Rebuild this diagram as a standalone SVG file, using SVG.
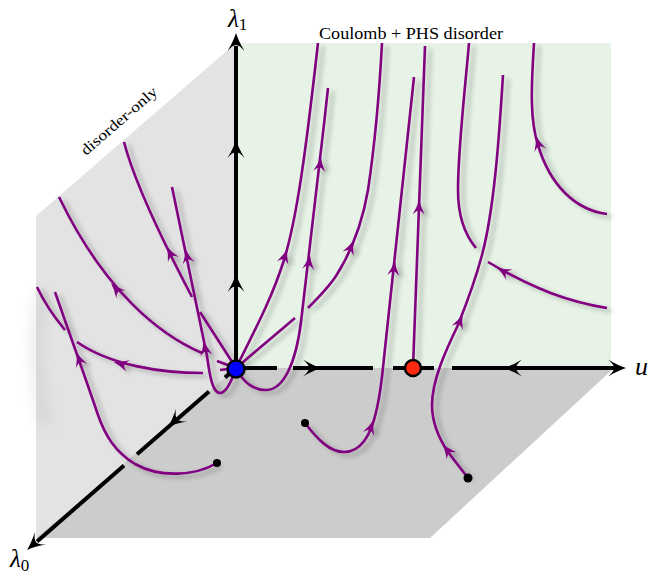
<svg xmlns="http://www.w3.org/2000/svg" xmlns:xlink="http://www.w3.org/1999/xlink" width="648" height="577" viewBox="0 0 648 577">
<style>
.fl{fill:none;stroke:#800080;stroke-width:2.6}
.ax{fill:none;stroke:#000;stroke-width:4}
.lab{font-family:"Liberation Serif","DejaVu Serif",serif;fill:#000}
.dot{fill:#000}
</style>
<defs>
<path id="pa" d="M7.5,0 Q0,-1.8 -7.5,-6 Q-3.5,-2.2 -3.5,0 Q-3.5,2.2 -7.5,6 Q0,1.8 7.5,0 Z" fill="#800080"/>
<path id="ka" d="M0,0 Q-8,-2.5 -18,-8.5 Q-12,-3.5 -12,0 Q-12,3.5 -18,8.5 Q-8,2.5 0,0 Z" fill="#000"/>
<filter id="sh" x="-20%" y="-20%" width="140%" height="140%">
<feGaussianBlur in="SourceAlpha" stdDeviation="2.5"/>
<feOffset dx="5" dy="3"/>
<feComponentTransfer><feFuncA type="linear" slope="0.28"/></feComponentTransfer>
<feMerge><feMergeNode/><feMergeNode in="SourceGraphic"/></feMerge>
</filter>
<filter id="bl" x="-200%" y="-30%" width="500%" height="160%"><feGaussianBlur stdDeviation="7"/></filter>
</defs>

<g id="planes">
<polygon id="plane-left" points="236,43 36,216 36,538 236,368" fill="#e3e3e3"/>
<polygon id="plane-back" points="236,43 611,43 611,368 236,368" fill="#e7f3e7"/>
<polygon id="plane-floor" points="236,368 614,368 430,538 36,538" fill="#cccccc"/>
<path d="M42,292 C34,330 34,380 46,425" fill="none" stroke="#a0a0a0" stroke-width="8" opacity="0.3" filter="url(#bl)"/>
</g>

<g id="axes">
<line class="ax" x1="236" y1="368" x2="236" y2="46"/>
<line class="ax" x1="236" y1="368" x2="277" y2="368"/>
<line class="ax" x1="293" y1="368" x2="373" y2="368"/>
<line class="ax" x1="393" y1="368" x2="434" y2="368"/>
<line class="ax" x1="452" y1="368" x2="615" y2="368"/>
<line class="ax" x1="236" y1="368" x2="225" y2="377.6"/>
<line class="ax" x1="209" y1="391.5" x2="137" y2="454.3"/>
<line class="ax" x1="124" y1="465.6" x2="37" y2="541.5"/>
<use xlink:href="#ka" href="#ka" transform="translate(236,33) rotate(-90)"/>
<use xlink:href="#ka" href="#ka" transform="translate(236,140) rotate(-90)"/>
<use xlink:href="#ka" href="#ka" transform="translate(236,274) rotate(-90)"/>
<use xlink:href="#ka" href="#ka" transform="translate(321,368)"/>
<use xlink:href="#ka" href="#ka" transform="translate(504,368) rotate(180)"/>
<use xlink:href="#ka" href="#ka" transform="translate(626,368)"/>
<use xlink:href="#ka" href="#ka" transform="translate(168,427) rotate(139)"/>
<use xlink:href="#ka" href="#ka" transform="translate(27,550) rotate(139)"/>
</g>

<g id="connectors" filter="url(#sh)">
<path class="fl" d="M236,368 C255,330 272,298 284,260 C297,218 306,150 318,43"/>
<path class="fl" d="M236,368 C244,384 254,390 266,390 C284,390 296,362 301,322 C306,280 318,180 328,88"/>
<path class="fl" d="M236,368 L295,318"/>
<path class="fl" d="M308,308 C318,298 328,288 336,276 C350,254 362,225 368,190 C374,150 379,100 382,43"/>
<path class="fl" d="M305,423 C318,440 330,452 344,452 C362,452 372,432 377,408 C381,390 382,378 384,358 L414,77"/>
<path class="fl" d="M413,368 L425,46"/>
<path class="fl" d="M469,43 C464,100 458,150 458,190 C458,215 465,235 476,248"/>
<path class="fl" d="M503,75 C499,140 494,210 482,255 C474,285 466,305 458,325 C446,350 432,380 432,405 C432,425 440,440 448,452 L468,478"/>
<path class="fl" d="M534,43 C531,90 530,120 538,145 C550,185 575,210 607,214"/>
<path class="fl" d="M607,308 C570,302 535,290 488,262"/>
<path class="fl" d="M236,368 L200,312"/>
<path class="fl" d="M192,297 C170,255 135,185 124,142"/>
<path class="fl" d="M236,368 C231,383 226,393 220,393 C213,393 210,378 207,356 L172,187"/>
<path class="fl" d="M236,368 L217,361"/>
<path class="fl" d="M202,353 C160,335 105,292 59,197"/>
<path class="fl" d="M236,368 L220,370"/>
<path class="fl" d="M203,373 C160,373 110,365 77,342"/>
<path class="fl" d="M65,330 C55,318 44,302 37,287"/>
<path class="fl" d="M217,463 C195,476 160,478 135,464 C115,452 105,435 98,415 C88,385 70,335 55,292"/>
<use xlink:href="#pa" href="#pa" transform="translate(285,256) rotate(-72)"/>
<use xlink:href="#pa" href="#pa" transform="translate(309,262) rotate(-83)"/>
<use xlink:href="#pa" href="#pa" transform="translate(320,164) rotate(-84)"/>
<use xlink:href="#pa" href="#pa" transform="translate(351,247) rotate(-67)"/>
<use xlink:href="#pa" href="#pa" transform="translate(371,427) rotate(-70)"/>
<use xlink:href="#pa" href="#pa" transform="translate(394,268) rotate(-84)"/>
<use xlink:href="#pa" href="#pa" transform="translate(419,207) rotate(-88)"/>
<use xlink:href="#pa" href="#pa" transform="translate(460,321) rotate(-69)"/>
<use xlink:href="#pa" href="#pa" transform="translate(447,450) rotate(-128)"/>
<use xlink:href="#pa" href="#pa" transform="translate(538,143) rotate(-107)"/>
<use xlink:href="#pa" href="#pa" transform="translate(503,271) rotate(-150)"/>
<use xlink:href="#pa" href="#pa" transform="translate(170,253) rotate(-116)"/>
<use xlink:href="#pa" href="#pa" transform="translate(187,256) rotate(-102)"/>
<use xlink:href="#pa" href="#pa" transform="translate(205,348) rotate(-100)"/>
<use xlink:href="#pa" href="#pa" transform="translate(116,289) rotate(-131)"/>
<use xlink:href="#pa" href="#pa" transform="translate(121,364) rotate(-164)"/>
<use xlink:href="#pa" href="#pa" transform="translate(79,359) rotate(-110)"/>
</g>

<g id="node-start-left"><circle class="dot" cx="217" cy="463" r="4"/></g>
<g id="node-start-mid"><circle class="dot" cx="305" cy="423" r="4"/></g>
<g id="node-start-right"><circle class="dot" cx="468" cy="478" r="4.5"/></g>
<g id="node-gaussian"><circle cx="236" cy="369" r="8.5" fill="#0000ff" stroke="#000" stroke-width="2.4"/></g>
<g id="node-coulomb"><circle cx="413" cy="368" r="8" fill="#ff2a10" stroke="#000" stroke-width="2.4"/></g>

<g id="labels">
<text class="lab" x="228" y="27" font-size="25" font-style="italic">λ<tspan font-size="17" font-style="normal" dy="3">1</tspan></text>
<text class="lab" x="10" y="567" font-size="25" font-style="italic">λ<tspan font-size="17" font-style="normal" dy="4">0</tspan></text>
<text class="lab" x="635" y="375" font-size="26" font-style="italic">u</text>
<text class="lab" x="319" y="39" font-size="16" textLength="184" lengthAdjust="spacingAndGlyphs">Coulomb + PHS disorder</text>
<text class="lab" font-size="15" textLength="96" lengthAdjust="spacingAndGlyphs" transform="translate(86,156) rotate(-41)">disorder-only</text>
</g>
</svg>
